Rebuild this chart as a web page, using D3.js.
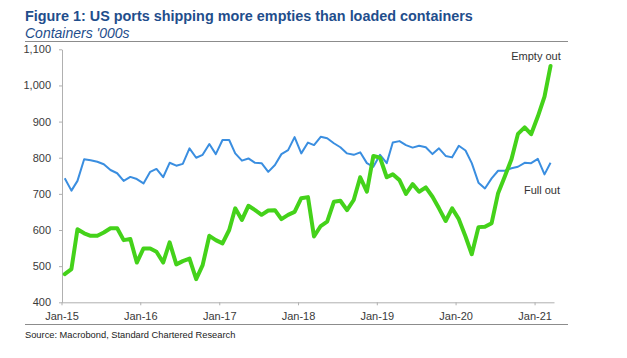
<!DOCTYPE html>
<html>
<head>
<meta charset="utf-8">
<script src="https://cdn.jsdelivr.net/npm/d3@7"></script>
<style>
  html, body { margin: 0; padding: 0; background: #fff; }
  svg { display: block; font-family: "Liberation Sans", Arial, sans-serif; }
</style>
</head>
<body>
<svg id="chart" width="627" height="358"></svg>
<script>
// Monthly data, Jan-2015 .. Mar-2021 (thousand containers)
const startYear = 2015;
const fullOut = [
  743, 709, 736, 796, 793, 789, 782, 766, 757, 736, 747, 741,
  729, 761, 769, 746, 786, 778, 783, 826, 800, 808, 838, 810,
  849, 849, 812, 792, 798, 786, 785, 761, 780, 810, 821, 857,
  812, 842, 835, 858, 854, 840, 829, 812, 808, 815, 785, 775,
  808, 785, 842, 846, 835, 828, 833, 829, 810, 826, 805, 801,
  833, 820, 785, 731, 715, 743, 764, 764, 771, 775, 786, 785,
  797, 754, 786
];
const emptyOut = [
  478, 492, 602, 591, 584, 584, 593, 605, 605, 572, 575, 510,
  549, 549, 540, 510, 566, 505, 514, 521, 464, 503, 584, 572,
  563, 600, 660, 628, 667, 655, 642, 654, 655, 630, 642, 650,
  688, 691, 582, 611, 623, 678, 681, 655, 683, 746, 706, 805,
  800, 746, 754, 738, 700, 727, 706, 718, 692, 660, 625, 660,
  630, 582, 533, 608, 609, 619, 702, 748, 796, 866, 884, 865,
  914, 969, 1054
];
const yTicks = [400, 500, 600, 700, 800, 900, 1000, 1100];
const xTickYears = [2015, 2016, 2017, 2018, 2019, 2020, 2021];
const title = "Figure 1: US ports shipping more empties than loaded containers";
const subtitle = "Containers '000s";
const source = "Source: Macrobond, Standard Chartered Research";
const labelEmpty = "Empty out";
const labelFull = "Full out";

const svg = d3.select("#chart");

const x = d3.scaleTime()
  .domain([new Date(2015, 0, 1), new Date(2021, 3, 1)])
  .range([61.5, 554]);
const y = d3.scaleLinear().domain([400, 1100]).range([302.3, 49.3]);

const dateOf = i => new Date(startYear, i, 16);

// Titles
svg.append("text").attr("x", 25).attr("y", 20.5)
  .attr("font-size", 14.4).attr("font-weight", "bold").attr("fill", "#1f4e8c")
  .text(title);
svg.append("text").attr("x", 25).attr("y", 37.5)
  .attr("font-size", 14).attr("font-style", "italic").attr("fill", "#1f4e8c")
  .text(subtitle);

// Rules
svg.append("line").attr("x1", 25).attr("x2", 568).attr("y1", 41.5).attr("y2", 41.5)
  .attr("stroke", "#8c8c8c").attr("stroke-width", 1);
svg.append("line").attr("x1", 25).attr("x2", 568).attr("y1", 324.5).attr("y2", 324.5)
  .attr("stroke", "#8c8c8c").attr("stroke-width", 1);

// Axes
const axisColor = "#b0b0b0";
const yAxis = d3.axisLeft(y).tickValues(yTicks).tickFormat(d3.format(","))
  .tickSize(3).tickSizeOuter(0).tickPadding(8);
const gy = svg.append("g").attr("transform", "translate(62,0)").call(yAxis);

const xAxis = d3.axisBottom(x)
  .tickValues(xTickYears.map(yr => new Date(yr, 0, 1)))
  .tickFormat(d3.timeFormat("Jan-%y"))
  .tickSize(3).tickSizeOuter(0).tickPadding(7);
const gx = svg.append("g").attr("transform", "translate(0,302.3)").call(xAxis);

[gx, gy].forEach(g => {
  g.select(".domain").attr("stroke", axisColor);
  g.selectAll(".tick line").attr("stroke", axisColor);
  g.selectAll(".tick text").attr("fill", "#3a3a3a").attr("font-size", 11)
    .attr("font-family", "'Liberation Sans', Arial, sans-serif");
});

// Lines
const line = d3.line().x((d, i) => x(dateOf(i))).y(d => y(d));
svg.append("path").datum(fullOut).attr("d", line)
  .attr("fill", "none").attr("stroke", "#3a8ee0").attr("stroke-width", 2)
  .attr("stroke-linejoin", "round");
svg.append("path").datum(emptyOut).attr("d", line)
  .attr("fill", "none").attr("stroke", "#44d21a").attr("stroke-width", 4)
  .attr("stroke-linejoin", "round").attr("stroke-linecap", "round");

// Series labels
svg.append("text").attr("x", 536).attr("y", 60).attr("text-anchor", "middle")
  .attr("font-size", 11).attr("fill", "#333").text(labelEmpty);
svg.append("text").attr("x", 542).attr("y", 194).attr("text-anchor", "middle")
  .attr("font-size", 11).attr("fill", "#333").text(labelFull);

// Source
svg.append("text").attr("x", 25).attr("y", 337.5)
  .attr("font-size", 9.3).attr("fill", "#222").text(source);
</script>
</body>
</html>
